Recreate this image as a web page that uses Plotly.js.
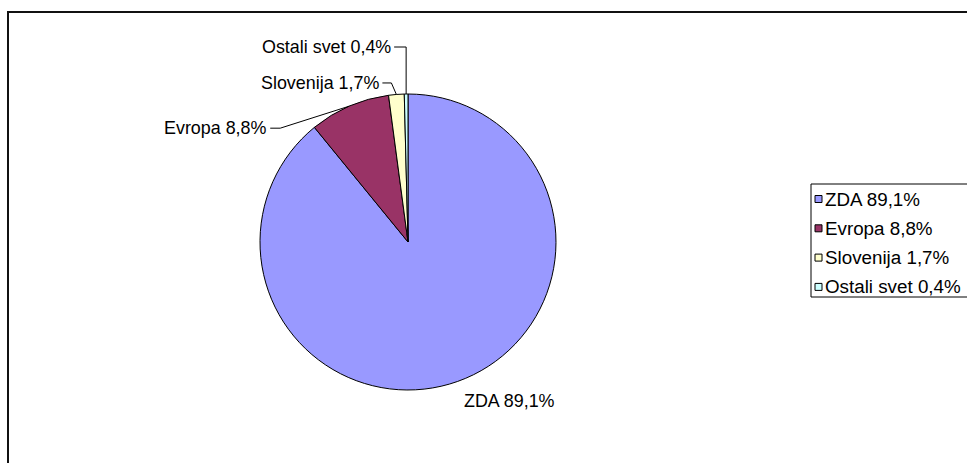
<!DOCTYPE html>
<html>
<head>
<meta charset="utf-8">
<script src="https://cdn.plot.ly/plotly-3.0.1.min.js"></script>
<style>
  html, body { margin: 0; padding: 0; background: #fff; }
  #chart { width: 967px; height: 463px; }
</style>
</head>
<body>
<div id="chart"></div>
<script>
// Share of the total by region
const regions = ['ZDA', 'Evropa', 'Slovenija', 'Ostali svet'];
const shares = [89.1, 8.8, 1.7, 0.4];
const sliceColors = ['#9999FF', '#993366', '#FFFFCC', '#CCFFFF'];

const W = 967, H = 463;
const FONT = 'Arial, "Liberation Sans", sans-serif';

// Pie placement in pixels
const cx = 408, cy = 242, R = 148;

const px = x => x / W;
const py = y => 1 - y / H;
const fmt = v => v.toFixed(1).replace('.', ',') + '%';

// Label offsets from the slice's outer-edge midpoint (pixels) and
// how far the horizontal leader stub runs from the end of the text.
const labelStyle = [
  { dx: 5,   dy: 20,    side: 'left',  stub: 0 },
  { dx: -81, dy: 22,    side: 'right', stub: 12 },
  { dx: -16, dy: -11.5, side: 'right', stub: 11 },
  { dx: -14, dy: -47,   side: 'right', stub: 14 }
];

const total = shares.reduce((a, b) => a + b, 0);
const annotations = [];
const shapes = [];

let cum = 0;
shares.forEach((v, i) => {
  const mid = (cum + v / 2) / total * 2 * Math.PI;   // clockwise from 12 o'clock
  cum += v;
  const ex = cx + R * Math.sin(mid);
  const ey = cy - R * Math.cos(mid);
  const st = labelStyle[i];
  const tx = ex + st.dx, ty = ey + st.dy;
  annotations.push({
    xref: 'paper', yref: 'paper', x: px(tx), y: py(ty),
    xanchor: st.side, yanchor: 'middle', showarrow: false,
    text: regions[i] + ' ' + fmt(v),
    font: { family: FONT, size: 17.9, color: '#000' },
    borderpad: 0
  });
  if (st.stub > 0) {
    const x0 = tx + 2, xe = tx + st.stub;
    shapes.push({
      type: 'path', xref: 'paper', yref: 'paper',
      path: `M${px(x0)},${py(ty)} L${px(xe)},${py(ty)} L${px(ex)},${py(ey)}`,
      line: { color: '#000', width: 1 }
    });
  }
});

// Legend box with one swatch and caption per region
const legLeft = 811, legTop = 184, legBottom = 297, legRight = 968;
const rowY0 = 199, rowStep = 29.3;
shapes.push({
  type: 'rect', xref: 'paper', yref: 'paper',
  x0: px(legLeft), x1: px(legRight), y0: py(legBottom), y1: py(legTop),
  line: { color: '#000', width: 1 }, fillcolor: 'rgba(0,0,0,0)'
});
regions.forEach((name, i) => {
  const y = rowY0 + i * rowStep;
  shapes.push({
    type: 'rect', xref: 'paper', yref: 'paper',
    x0: px(815), x1: px(822), y0: py(y + 3.5), y1: py(y - 3.5),
    line: { color: '#000', width: 1 }, fillcolor: sliceColors[i]
  });
  annotations.push({
    xref: 'paper', yref: 'paper', x: px(824), y: py(y),
    xanchor: 'left', yanchor: 'middle', showarrow: false,
    text: name + ' ' + fmt(shares[i]),
    font: { family: FONT, size: 18.8, color: '#000' },
    borderpad: 0
  });
});

// Outer chart frame: left and top edges
shapes.push({
  type: 'path', xref: 'paper', yref: 'paper',
  path: `M${px(8)},${py(470)} L${px(8)},${py(12)} L${px(975)},${py(12)}`,
  line: { color: '#111', width: 2 }
});

const trace = {
  type: 'pie',
  labels: regions,
  values: shares,
  sort: false,
  direction: 'clockwise',
  rotation: 0,
  marker: { colors: sliceColors, line: { color: '#000', width: 1 } },
  textinfo: 'none',
  hoverinfo: 'label+percent',
  showlegend: false,
  domain: { x: [px(cx - R), px(cx + R)], y: [py(cy + R), py(cy - R)] }
};

const layout = {
  width: W, height: H,
  margin: { l: 0, r: 0, t: 0, b: 0 },
  paper_bgcolor: '#fff',
  showlegend: false,
  annotations: annotations,
  shapes: shapes
};

Plotly.newPlot('chart', [trace], layout, { displayModeBar: false, staticPlot: true });
</script>
</body>
</html>
